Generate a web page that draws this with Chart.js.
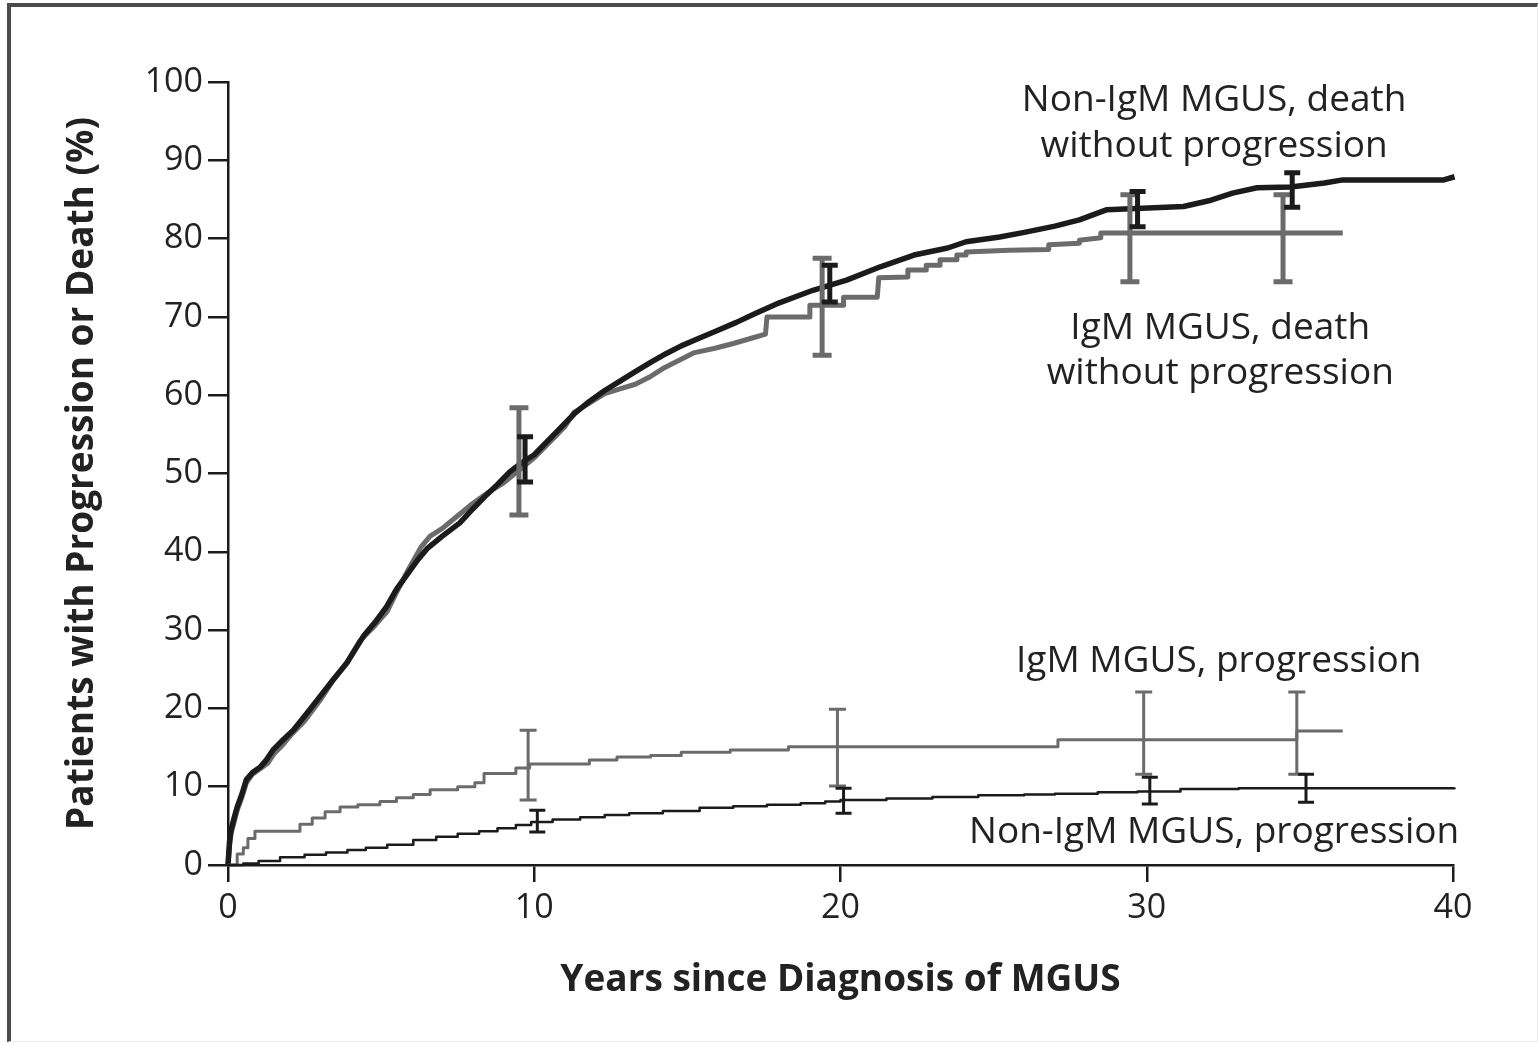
<!DOCTYPE html>
<html>
<head>
<meta charset="utf-8">
<script src="https://cdn.jsdelivr.net/npm/chart.js@4.4.1/dist/chart.umd.min.js"></script>
<style>
  html, body { margin: 0; padding: 0; background: #fff; }
  #frame {
    position: absolute; left: 7px; top: 3px; width: 1531px; height: 1039px;
    box-sizing: border-box;
    border-left: 4px solid #4b4b4b; border-top: 4px solid #4b4b4b;
    border-right: 1px solid #ececec; border-bottom: 1px solid #ececec;
  }
  #wrap { position: absolute; left: 0; top: 0; width: 1538px; height: 1043px; }
</style>
</head>
<body>
<div id="frame"></div>
<div id="wrap"><canvas id="chart"></canvas></div>
<script>
// Cumulative incidence (%) by years since MGUS diagnosis

// Non-IgM MGUS, death without progression
const deathNonIgmYears = [0, 0.05, 0.1, 0.2, 0.3, 0.45, 0.6, 0.8, 1.05, 1.25, 1.47, 1.8, 2.13, 2.5, 3.0, 3.4, 3.88, 4.42, 4.8, 5.18, 5.5, 5.83, 6.2, 6.5, 7.0, 7.57, 8.0, 8.45, 8.8, 9.2, 9.6, 10.0, 10.4, 10.8, 11.3, 11.8, 12.3, 12.8, 13.3, 13.8, 14.3, 14.8, 15.4, 16.0, 16.6, 17.2, 18.0, 19.1, 20.2, 21.3, 22.4, 23.5, 24.1, 25.2, 26.0, 27.0, 27.8, 28.7, 31.2, 32.1, 32.8, 33.6, 34.7, 35.8, 36.4, 39.7, 40.05];
const deathNonIgmPct   = [0, 3.0, 4.5, 6.0, 7.4, 9.0, 10.9, 11.8, 12.5, 13.4, 14.7, 16.0, 17.2, 19.0, 21.5, 23.5, 25.8, 29.2, 31.0, 33.0, 35.2, 37.0, 39.0, 40.4, 42.0, 43.7, 45.5, 47.3, 48.6, 50.2, 51.4, 52.4, 54.0, 55.6, 57.6, 59.2, 60.6, 61.8, 63.0, 64.2, 65.3, 66.3, 67.3, 68.3, 69.3, 70.4, 71.8, 73.4, 74.7, 76.4, 77.9, 78.8, 79.6, 80.2, 80.8, 81.6, 82.4, 83.7, 84.1, 84.9, 85.8, 86.5, 86.6, 87.1, 87.5, 87.5, 87.9];

// IgM MGUS, death without progression (later steps listed as their corner points)
const deathIgmYears = [0, 0.05, 0.1, 0.2, 0.3, 0.45, 0.6, 0.8, 1.05, 1.3, 1.5, 1.8, 2.1, 2.5, 3.0, 3.4, 3.9, 4.3, 4.8, 5.2, 5.5, 5.9, 6.3, 6.6, 7.0, 7.5, 8.0, 8.5, 9.0, 9.5, 10.0, 10.5, 11.0, 11.3, 11.8, 12.3, 12.8, 13.3, 13.8, 14.2, 14.7, 15.2, 15.9, 16.5, 17.2, 17.55, 17.6, 19.0, 19.0, 20.1, 20.1, 21.2, 21.25, 22.2, 22.2, 22.8, 22.8, 23.25, 23.25, 23.8, 23.8, 24.1, 24.1, 25.5, 26.8, 26.8, 27.8, 27.8, 28.5, 28.5, 36.4];
const deathIgmPct   = [0, 2.5, 4.0, 5.5, 7.0, 8.6, 10.5, 11.6, 12.3, 13.0, 14.2, 15.4, 16.8, 18.4, 21.0, 23.4, 26.0, 28.6, 30.6, 32.4, 34.8, 37.8, 40.6, 42.0, 43.0, 44.6, 46.2, 47.6, 48.8, 50.4, 52.0, 54.0, 56.0, 57.8, 59.0, 60.2, 60.8, 61.4, 62.4, 63.4, 64.4, 65.4, 66.0, 66.6, 67.4, 67.8, 70.0, 70.0, 71.5, 71.5, 72.5, 72.5, 75.0, 75.1, 76.0, 76.0, 76.6, 76.6, 77.3, 77.3, 77.9, 77.9, 78.3, 78.5, 78.6, 79.2, 79.4, 79.8, 80.1, 80.7, 80.7];

// IgM MGUS, progression
const progIgmYears = [0, 0.3, 0.5, 0.65, 0.88, 2.35, 2.75, 3.17, 3.66, 4.24, 4.96, 5.5, 6.05, 6.6, 7.5, 8.06, 8.36, 9.4, 9.85, 11.8, 12.7, 13.8, 14.8, 16.4, 18.3, 27.1, 34.9, 36.4];
const progIgmPct   = [0, 1.4, 2.2, 3.4, 4.3, 5.2, 6.0, 6.8, 7.4, 7.7, 8.1, 8.6, 9.0, 9.6, 10.0, 10.5, 11.7, 12.4, 12.9, 13.4, 13.8, 14.0, 14.4, 14.7, 15.1, 16.0, 17.1, 17.1];

// Non-IgM MGUS, progression
const progNonIgmYears = [0, 0.5, 1.0, 1.7, 2.5, 3.2, 3.9, 4.5, 5.2, 6.05, 6.8, 7.5, 8.2, 8.8, 9.4, 9.9, 10.6, 11.5, 12.3, 13.1, 14.2, 15.4, 16.5, 17.6, 18.7, 19.5, 20.0, 21.5, 23.0, 24.5, 26.0, 27.0, 28.4, 29.7, 31.1, 33.0, 40.05];
const progNonIgmPct   = [0, 0.2, 0.5, 1.0, 1.3, 1.6, 1.9, 2.2, 2.6, 3.2, 3.6, 4.0, 4.3, 4.7, 5.1, 5.5, 5.8, 6.1, 6.4, 6.6, 6.9, 7.3, 7.5, 7.7, 7.9, 8.1, 8.3, 8.5, 8.7, 8.9, 9.0, 9.1, 9.3, 9.4, 9.7, 9.8, 9.9];

// 95% confidence intervals: year, lower, upper
const ciDeathNonIgmYears = [9.7, 19.65, 29.7, 34.75];
const ciDeathNonIgmLow   = [48.9, 71.9, 81.5, 84.0];
const ciDeathNonIgmHigh  = [54.7, 76.6, 86.0, 88.4];

const ciDeathIgmYears = [9.5, 19.4, 29.45, 34.45];
const ciDeathIgmLow   = [44.7, 65.1, 74.5, 74.5];
const ciDeathIgmHigh  = [58.4, 77.5, 85.6, 85.6];

const ciProgIgmYears = [9.8, 19.9, 29.9, 34.9];
const ciProgIgmLow   = [8.3, 10.1, 11.6, 11.6];
const ciProgIgmHigh  = [17.2, 19.9, 22.1, 22.1];

const ciProgNonIgmYears = [10.1, 20.1, 30.1, 35.2];
const ciProgNonIgmLow   = [4.2, 6.6, 7.8, 8.0];
const ciProgNonIgmHigh  = [7.0, 9.8, 11.2, 11.6];

// Axis ticks
const xTicks = [0, 10, 20, 30, 40];
const yTicks = [0, 10, 20, 30, 40, 50, 60, 70, 80, 90, 100];

// Curve labels: text line, anchor year, anchor percent
const labelLines = ['Non-IgM MGUS, death', 'without progression', 'IgM MGUS, death', 'without progression', 'IgM MGUS, progression', 'Non-IgM MGUS, progression'];
const labelYears = [32.2, 32.2, 32.4, 32.4, 32.35, 32.2];
const labelPct   = [97.6, 91.8, 68.5, 62.8, 26.0, 4.2];

const BLACK = '#1b1b1b';
const GRAY = '#6b6b6b';
const TEXT = '#222222';
const FONT = "'Open Sans', 'Noto Sans', sans-serif";

const pts = (xs, ys) => xs.map((x, i) => ({ x, y: ys[i] }));

const ciSets = [
  { xs: ciDeathIgmYears, lo: ciDeathIgmLow, hi: ciDeathIgmHigh, color: GRAY, width: 5, cap: 19 },
  { xs: ciDeathNonIgmYears, lo: ciDeathNonIgmLow, hi: ciDeathNonIgmHigh, color: BLACK, width: 5, cap: 16 },
  { xs: ciProgIgmYears, lo: ciProgIgmLow, hi: ciProgIgmHigh, color: GRAY, width: 3, cap: 17 },
  { xs: ciProgNonIgmYears, lo: ciProgNonIgmLow, hi: ciProgNonIgmHigh, color: BLACK, width: 3, cap: 16 }
];

const errorBars = {
  id: 'errorBars',
  afterDatasetsDraw(chart) {
    const { ctx, scales: { x, y } } = chart;
    ctx.save();
    ctx.lineCap = 'butt';
    ciSets.forEach(s => {
      ctx.strokeStyle = s.color;
      ctx.lineWidth = s.width;
      s.xs.forEach((t, i) => {
        const px = x.getPixelForValue(t);
        const yl = y.getPixelForValue(s.lo[i]);
        const yh = y.getPixelForValue(s.hi[i]);
        ctx.beginPath();
        ctx.moveTo(px, yl); ctx.lineTo(px, yh);
        ctx.moveTo(px - s.cap / 2, yl); ctx.lineTo(px + s.cap / 2, yl);
        ctx.moveTo(px - s.cap / 2, yh); ctx.lineTo(px + s.cap / 2, yh);
        ctx.stroke();
      });
    });
    ctx.restore();
  }
};

const curveLabels = {
  id: 'curveLabels',
  afterDraw(chart) {
    const { ctx, scales: { x, y } } = chart;
    ctx.save();
    ctx.fillStyle = TEXT;
    ctx.font = `37px ${FONT}`;
    ctx.textAlign = 'center';
    ctx.textBaseline = 'middle';
    labelLines.forEach((txt, i) => {
      ctx.fillText(txt, x.getPixelForValue(labelYears[i]), y.getPixelForValue(labelPct[i]));
    });
    ctx.restore();
  }
};

new Chart(document.getElementById('chart'), {
  type: 'line',
  data: {
    datasets: [
      { label: 'Non-IgM MGUS, progression', data: pts(progNonIgmYears, progNonIgmPct), borderColor: BLACK, borderWidth: 2.5, stepped: true },
      { label: 'IgM MGUS, progression', data: pts(progIgmYears, progIgmPct), borderColor: GRAY, borderWidth: 3, stepped: true },
      { label: 'Non-IgM MGUS, death without progression', data: pts(deathNonIgmYears, deathNonIgmPct), borderColor: BLACK, borderWidth: 5.5 },
      { label: 'IgM MGUS, death without progression', data: pts(deathIgmYears, deathIgmPct), borderColor: GRAY, borderWidth: 5 }
    ]
  },
  options: {
    responsive: true,
    maintainAspectRatio: false,
    animation: false,
    events: [],
    layout: { padding: { left: 0, top: 82, right: 85, bottom: 0 } },
    elements: { point: { radius: 0 }, line: { tension: 0, fill: false, borderJoinStyle: 'round' } },
    datasets: { line: { clip: false } },
    plugins: { legend: { display: false }, tooltip: { enabled: false } },
    scales: {
      x: {
        type: 'linear', min: 0, max: 40,
        afterFit: s => { s.height = 178; },
        afterBuildTicks: s => { s.ticks = xTicks.map(v => ({ value: v })); },
        grid: { drawOnChartArea: false, drawTicks: true, tickLength: 17, color: BLACK, lineWidth: 2.5 },
        border: { display: true, color: BLACK, width: 2.5 },
        ticks: { color: TEXT, font: { family: FONT, size: 34 }, padding: 6, maxRotation: 0 },
        title: { display: true, text: 'Years since Diagnosis of MGUS', color: TEXT, font: { family: FONT, size: 37, weight: 'bold' }, padding: { top: 0, bottom: 40 } }
      },
      y: {
        type: 'linear', min: 0, max: 100,
        afterFit: s => { s.width = 228; },
        afterBuildTicks: s => { s.ticks = yTicks.map(v => ({ value: v })); },
        grid: { drawOnChartArea: false, drawTicks: true, tickLength: 20, color: BLACK, lineWidth: 2.5 },
        border: { display: true, color: BLACK, width: 2.5 },
        ticks: { color: TEXT, font: { family: FONT, size: 34 }, padding: 5 },
        title: { display: true, text: 'Patients with Progression or Death (%)', color: TEXT, font: { family: FONT, size: 37, weight: 'bold' }, padding: { top: 60, bottom: 0 } }
      }
    }
  },
  plugins: [errorBars, curveLabels]
});
</script>
</body>
</html>
